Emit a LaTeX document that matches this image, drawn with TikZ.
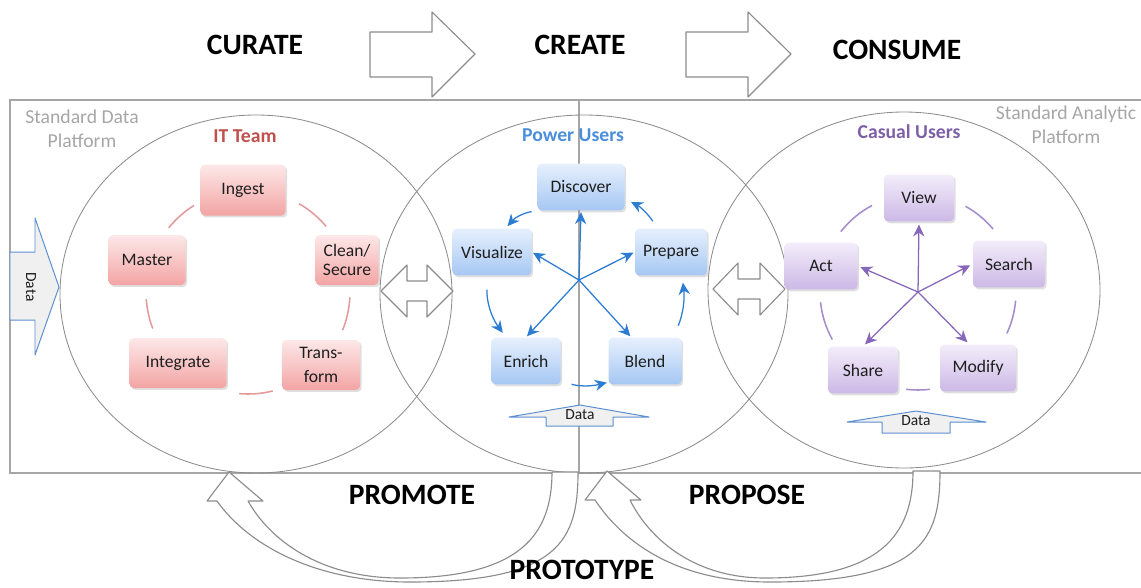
\documentclass[tikz,border=0pt]{standalone}
\usepackage{fontspec}
\setmainfont{Carlito}
\usepackage{tikz}
\usetikzlibrary{shapes,arrows.meta,positioning,shadows}

\definecolor{itred}{HTML}{C0504D}
\definecolor{itlight}{HTML}{FDE8E8}
\definecolor{itdark}{HTML}{F3A4A4}
\definecolor{itarc}{HTML}{E29A9A}
\definecolor{publue}{HTML}{4A8EDB}
\definecolor{pulight}{HTML}{E6F0FD}
\definecolor{pudark}{HTML}{A6C7F3}
\definecolor{pulink}{HTML}{2C7DD1}
\definecolor{cupurple}{HTML}{7D5FA8}
\definecolor{culight}{HTML}{F3EDFA}
\definecolor{cudark}{HTML}{CCB8E6}
\definecolor{culink}{HTML}{8767BA}
\definecolor{cuarc}{HTML}{A68DCC}
\definecolor{platgray}{HTML}{A6A6A6}
\definecolor{framegray}{HTML}{A6A6A6}
\definecolor{ringgray}{HTML}{8C8C8C}
\definecolor{shapegray}{HTML}{8C8C8C}
\definecolor{datablue}{HTML}{5B8FD0}
\definecolor{datafill}{HTML}{F0F0F0}
\definecolor{textdark}{HTML}{1E1E1E}

\begin{document}
\begin{tikzpicture}[x=0.025cm, y=-0.025cm,
    task/.style={rectangle, rounded corners=3pt, minimum height=1.17cm, inner sep=2pt, align=center, text=textdark, font=\fontsize{12.5}{14}\selectfont, drop shadow={shadow xshift=1.2pt, shadow yshift=-1.4pt, opacity=0.25}},
    itbox/.style={task, minimum height=1.25cm, top color=itlight, bottom color=itdark},
    pubox/.style={task, top color=pulight, bottom color=pudark},
    cubox/.style={task, top color=culight, bottom color=cudark},
    phase/.style={font=\fontsize{21}{24}\selectfont\bfseries, text=black},
    team/.style={font=\fontsize{14}{16}\selectfont\bfseries},
    platform/.style={font=\fontsize{14}{17}\selectfont, text=platgray, align=center},
    zone/.style={draw=ringgray, line width=0.6pt},
    platframe/.style={draw=framegray, line width=1pt},
    hollow/.style={draw=shapegray, fill=white, line width=0.8pt, line join=round},
    datain/.style={draw=datablue, fill=datafill, line width=0.7pt, line join=round},
    datalabel/.style={font=\fontsize{11}{12}\selectfont, text=textdark, inner sep=0pt},
    itloop/.style={draw=itarc, line width=1.1pt},
    culoop/.style={draw=cuarc, line width=1.1pt},
    puarrow/.style={draw=pulink, line width=0.9pt, -{Stealth[length=8.5pt, width=8pt]}},
    cuarrow/.style={draw=culink, line width=0.9pt, -{Stealth[length=8.5pt, width=8pt]}}
]
    \useasboundingbox (0,0) rectangle (1141,587);

    % Platforms
    \draw[platframe] (10,100) rectangle (1160,473);
    \draw[platframe] (579,100) -- (579,473);
    \node[platform] (dataplat) at (82,129) {Standard Data\\Platform};
    \node[platform] (analyticplat) at (1066,125) {Standard Analytic\\Platform};

    % Zones
    \draw[zone] (256,294) ellipse [x radius=196, y radius=179];
    \draw[zone] (584,294) ellipse [x radius=204, y radius=179];
    \draw[zone] (904,290) ellipse [x radius=196, y radius=178];

    % Phases
    \node[phase] (curate) at (255,45) {CURATE};
    \node[phase] (create) at (580,45) {CREATE};
    \node[phase] (consume) at (897,50) {CONSUME};
    \draw[hollow] (370,32) -- (432,32) -- (432,12) -- (475,54) -- (432,97) -- (432,77) -- (370,77) -- cycle;
    \draw[hollow] (686,32) -- (748,32) -- (748,12) -- (791,54) -- (748,97) -- (748,77) -- (686,77) -- cycle;

    % Exchange between zones
    \draw[hollow] (381,291) -- (407,265) -- (407,281) -- (427,281) -- (427,265) -- (453,291) -- (427,317) -- (427,301) -- (407,301) -- (407,317) -- cycle;
    \draw[hollow] (713,289) -- (738,263) -- (738,279) -- (760,279) -- (760,263) -- (785,289) -- (760,315) -- (760,299) -- (738,299) -- (738,315) -- cycle;

    % IT team
    \node[team, text=itred] (itteam) at (245,136) {IT Team};
    \draw[datain] (10,252) -- (35,252) -- (35,218) -- (59,287) -- (35,355) -- (35,320) -- (10,320) -- cycle;
    \node[datalabel, rotate=-90] (itdata) at (31,287) {Data};
    \coordinate (itc) at (248,292);
    \foreach \a/\b in {-141/-122, -60/-40, 3/22, 76/95, 159/176}
        \draw[itloop] (itc) ++(\a:102) arc[start angle=\a, end angle=\b, radius=102];
    \node[itbox, minimum width=2.125cm, minimum height=1.275cm] (ingest) at (243,190) {Ingest};
    \node[itbox, minimum width=1.575cm] (clean) at (347,260) {Clean/\\Secure};
    \node[itbox, minimum width=1.95cm] (transform) at (321,365) {Trans-\\[3.5pt]form};
    \node[itbox, minimum width=2.425cm] (integrate) at (178,363) {Integrate};
    \node[itbox, minimum width=1.925cm] (master) at (147,260) {Master};

    % Power users
    \node[team, text=publue] (powerusers) at (573,135) {Power Users};
    \node[pubox, minimum width=2.175cm] (discover) at (581,187) {Discover};
    \node[pubox, minimum width=1.8cm] (prepare) at (671,252) {Prepare};
    \node[pubox, minimum width=1.825cm] (blend) at (645,361) {Blend};
    \node[pubox, minimum width=1.725cm] (enrich) at (526,361) {Enrich};
    \node[pubox, minimum width=1.975cm] (visualize) at (492,252) {Visualize};
    \coordinate (pc) at (579,280);
    \foreach \t in {discover.south, prepare.west, blend.120, enrich.north, visualize.east}
        \draw[puarrow, shorten >=1pt] (pc) -- (\t);
    \draw[puarrow, shorten <=4pt, shorten >=2pt] (discover.south west) to[bend right=20] (visualize.60);
    \draw[puarrow, shorten <=10pt, shorten >=4pt] (visualize.260) to[bend right=20] (enrich.130);
    \draw[puarrow, shorten <=8pt, shorten >=1pt] (enrich.-30) to[bend right=15] (blend.210);
    \draw[puarrow, shorten <=9pt, shorten >=5pt] (blend.40) to[bend right=15] (prepare.-65);
    \draw[puarrow, shorten <=6pt, shorten >=5pt] (prepare.120) to[bend right=15] (discover.-15);
    \draw[datain] (509,417) -- (580,405) -- (649,417) -- (613,417) -- (613,426) -- (546,426) -- (546,417) -- cycle;
    \node[datalabel] (pudata) at (580,415) {Data};

    % Casual users
    \node[team, text=cupurple] (casualusers) at (909,132) {Casual Users};
    \coordinate (cc) at (918,292);
    \foreach \a/\b in {-142/-118, -61/-40, 5/25, 83/97, 151/174}
        \draw[culoop] (cc) ++(\a:98) arc[start angle=\a, end angle=\b, radius=98];
    \node[cubox, minimum width=1.75cm] (view) at (919,198) {View};
    \node[cubox, minimum width=1.8cm] (search) at (1009,264) {Search};
    \node[cubox, minimum width=1.9cm] (modify) at (978,368) {Modify};
    \node[cubox, minimum width=1.75cm] (share) at (863,370) {Share};
    \node[cubox, minimum width=1.825cm] (act) at (821,266) {Act};
    \foreach \t in {view.south, search.west, modify.110, share.north, act.east}
        \draw[cuarrow, shorten >=2pt] (cc) -- (\t);
    \draw[datain] (847,422) -- (916,411) -- (986,422) -- (950,422) -- (950,433) -- (882,433) -- (882,422) -- cycle;
    \node[datalabel] (cudata) at (916,421) {Data};

    % Feedback loops
    \draw[hollow] (552,472) -- (578,472) .. controls (578,540) and (560,582) .. (410,582)
        .. controls (315,582) and (248,545) .. (217,501) -- (207,501) -- (229,472) -- (263,501) -- (248,501)
        .. controls (270,540) and (320,578) .. (400,578) .. controls (520,578) and (552,535) .. (552,472) -- cycle;
    \draw[hollow] (913,471) -- (940,471) .. controls (940,540) and (922,582) .. (770,582)
        .. controls (680,582) and (625,545) .. (595,500) -- (585,500) -- (607,471) -- (641,500) -- (630,500)
        .. controls (650,540) and (695,578) .. (765,578) .. controls (880,578) and (913,535) .. (913,471) -- cycle;
    \node[phase] (promote) at (412,495) {PROMOTE};
    \node[phase] (propose) at (747,495) {PROPOSE};
    \node[phase, inner sep=0pt] (prototype) at (582,570) {PROTOTYPE};
\end{tikzpicture}
\end{document}
